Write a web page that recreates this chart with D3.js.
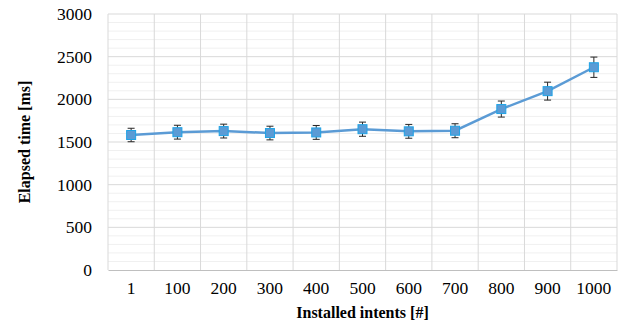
<!doctype html>
<html lang="en">
<head>
  <meta charset="utf-8">
  <title>Elapsed time vs installed intents</title>
  <style>
    body { margin:0; background:#fff; }
    svg text { font-family: "Liberation Serif", "Times New Roman", serif; fill:#000; }
    .title { font-size:16px; font-weight:bold; }
  </style>
</head>
<body>
  <svg id="chart" width="623" height="326"></svg>

<script src="https://cdn.jsdelivr.net/npm/d3@7"></script>
<script>
// values
var intents = ["1", "100", "200", "300", "400", "500", "600", "700", "800", "900", "1000"];
var elapsed = [1582, 1615, 1628, 1605, 1612, 1650, 1625, 1632, 1886, 2096, 2376];
var errs = [79, 81, 81, 80, 81, 83, 81, 82, 94, 105, 119];
var yTicks = [0, 500, 1000, 1500, 2000, 2500, 3000];

var margin = {top:14, right:6, bottom:56, left:108};
var W = 623, H = 326;
var serif = '"Liberation Serif", "Times New Roman", serif';
var svg = d3.select("#chart");

var x = d3.scaleBand().domain(intents).range([margin.left, W - margin.right]);
var y = d3.scaleLinear().domain([0, 3000]).range([H - margin.bottom, margin.top]);

// minor grid every 100
svg.append("g").selectAll("line")
  .data(d3.range(0, 3001, 100).filter(function(v){ return v % 500; }))
  .join("line")
  .attr("x1", margin.left).attr("x2", W - margin.right)
  .attr("y1", function(d){ return y(d); }).attr("y2", function(d){ return y(d); })
  .attr("stroke", "#f0f0f0").attr("stroke-width", 1);

// major grid
svg.append("g").selectAll("line").data(yTicks.slice(1)).join("line")
  .attr("x1", margin.left).attr("x2", W - margin.right)
  .attr("y1", function(d){ return y(d); }).attr("y2", function(d){ return y(d); })
  .attr("stroke", "#d9d9d9").attr("stroke-width", 1);

// vertical lines at category boundaries
var bounds = intents.map(function(c){ return x(c); }).concat([x.range()[1]]);
svg.append("g").selectAll("line").data(bounds).join("line")
  .attr("x1", function(d){ return d; }).attr("x2", function(d){ return d; })
  .attr("y1", y(0)).attr("y2", y(3000))
  .attr("stroke", "#d9d9d9").attr("stroke-width", 1);

// y axis labels
var ya = svg.append("g").attr("transform", "translate(" + margin.left + ",0)")
  .call(d3.axisLeft(y).tickValues(yTicks).tickFormat(d3.format("d")).tickSize(0).tickPadding(16));
ya.select(".domain").remove();

// x axis
var xa = svg.append("g").attr("transform", "translate(0," + y(0) + ")")
  .call(d3.axisBottom(x).tickSize(0).tickPadding(12));
xa.select(".domain").attr("stroke", "#bfbfbf");

[ya, xa].forEach(function(a){
  a.selectAll(".tick text")
    .style("font-family", serif)
    .style("font-size", "17.5px")
    .style("fill", "#000");
});

// series line
var line = d3.line()
  .x(function(d, i){ return x(intents[i]) + x.bandwidth() / 2; })
  .y(function(d){ return y(d); });
svg.append("path").datum(elapsed)
  .attr("d", line).attr("fill", "none")
  .attr("stroke", "#5b9bd5").attr("stroke-width", 2.5);

// error bars
var eb = svg.append("g").attr("stroke", "#262626").attr("stroke-width", 1);
elapsed.forEach(function(v, i){
  var cx = x(intents[i]) + x.bandwidth() / 2;
  eb.append("line").attr("x1", cx).attr("x2", cx)
    .attr("y1", y(v - errs[i])).attr("y2", y(v + errs[i]));
  [v - errs[i], v + errs[i]].forEach(function(e){
    eb.append("line").attr("x1", cx - 3.5).attr("x2", cx + 3.5)
      .attr("y1", y(e)).attr("y2", y(e));
  });
});

// markers
svg.append("g").selectAll("rect").data(elapsed).join("rect")
  .attr("x", function(d, i){ return x(intents[i]) + x.bandwidth() / 2 - 4.5; })
  .attr("y", function(d){ return y(d) - 4.5; })
  .attr("width", 9).attr("height", 9)
  .attr("fill", "#5b9bd5").attr("stroke", "#1fa3e6").attr("stroke-width", 1);

// titles
svg.append("text").attr("class", "title")
  .attr("x", (margin.left + W - margin.right) / 2).attr("y", 318)
  .attr("text-anchor", "middle").text("Installed intents [#]");
svg.append("text").attr("class", "title")
  .attr("transform", "translate(24," + ((margin.top + y(0)) / 2) + ") rotate(-90)")
  .attr("text-anchor", "middle").attr("dy", "0.35em").text("Elapsed time [ms]");
</script>
</body>
</html>
